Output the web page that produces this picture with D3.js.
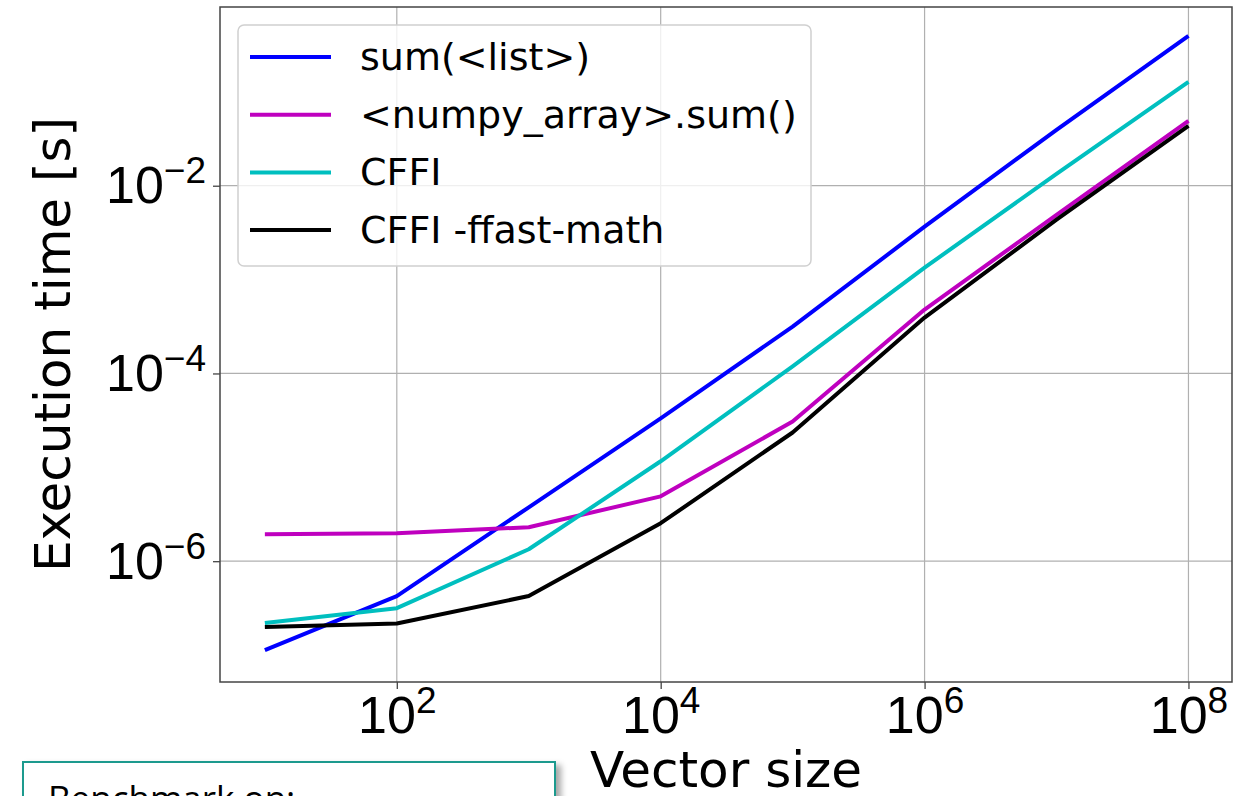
<!DOCTYPE html>
<html>
<head>
<meta charset="utf-8">
<script src="https://cdn.jsdelivr.net/npm/d3@7"></script>
<style>
	body { margin: 0; background: #fff; overflow: hidden; }
	svg { display: block; font-family: 'DejaVu Sans', sans-serif; }
	.grid line { stroke: #b0b0b0; stroke-width: 1.2; }
	.axis path { display: none; }
	.axis line { stroke: #444; stroke-width: 1.3; }
	.frame { fill: none; stroke: #444; stroke-width: 1.5; }
	.line { fill: none; stroke-width: 4; stroke-linejoin: round; }
</style>
</head>
<body>
<script>
	var sizes = [1e1, 1e2, 1e3, 1e4, 1e5, 1e6, 1e7, 1e8];
	var sumList = [1.13e-7, 4.25e-7, 3.75e-6, 3.32e-5, 3.16e-4, 3.66e-3, 3.94e-2, 3.94e-1];
	var numpySum = [1.94e-6, 1.99e-6, 2.30e-6, 4.91e-6, 3.08e-5, 4.80e-4, 4.9e-3, 4.9e-2];
	var cffi = [2.19e-7, 3.16e-7, 1.34e-6, 1.16e-5, 1.19e-4, 1.34e-3, 1.34e-2, 1.28e-1];
	var cffiFast = [1.99e-7, 2.17e-7, 4.25e-7, 2.54e-6, 2.35e-5, 3.94e-4, 4.35e-3, 4.35e-2];
	var seriesNames = ['sum(<list>)', '<numpy_array>.sum()', 'CFFI', 'CFFI -ffast-math'];
	var seriesColors = ['#0000ff', '#bf00bf', '#00bfbf', '#000000'];
	var xTicks = [1e2, 1e4, 1e6, 1e8];
	var yTicks = [1e-6, 1e-4, 1e-2];

	var series = [sumList, numpySum, cffi, cffiFast].map(function(vals, i) {
		return { name: seriesNames[i], color: seriesColors[i], values: vals };
	});

	var fullWidth = 1236, fullHeight = 796;
	var margin = { top: 7, right: 4, bottom: 114, left: 220 };
	var width = fullWidth - margin.left - margin.right;
	var height = fullHeight - margin.top - margin.bottom;

	var svg = d3.select('body')
		.append('svg')
		.attr('width', fullWidth)
		.attr('height', fullHeight);

	var defs = svg.append('defs');
	defs.append('filter')
		.attr('id', 'shadow')
		.attr('x', '-10%').attr('y', '-10%')
		.attr('width', '130%').attr('height', '150%')
		.append('feDropShadow')
		.attr('dx', 5).attr('dy', 4)
		.attr('stdDeviation', 3)
		.attr('flood-color', '#000')
		.attr('flood-opacity', 0.35);

	var x = d3.scaleLog()
		.domain([Math.pow(10, 0.66), Math.pow(10, 8.33)])
		.range([0, width]);
	var y = d3.scaleLog()
		.domain([Math.pow(10, -7.287), Math.pow(10, -0.096)])
		.range([height, 0]);

	var chartArea = svg.append('g')
		.attr('transform', 'translate(' + margin.left + ',' + margin.top + ')');

	//grid
	var grid = chartArea.append('g').attr('class', 'grid');
	grid.selectAll('line.gx')
		.data(xTicks)
		.enter().append('line')
		.attr('class', 'gx')
		.attr('x1', function(d) { return x(d); })
		.attr('x2', function(d) { return x(d); })
		.attr('y1', 0)
		.attr('y2', height);
	grid.selectAll('line.gy')
		.data(yTicks)
		.enter().append('line')
		.attr('class', 'gy')
		.attr('x1', 0)
		.attr('x2', width)
		.attr('y1', function(d) { return y(d); })
		.attr('y2', function(d) { return y(d); });

	function powLabel(sel, d) {
		var e = Math.round(Math.log10(d));
		sel.text('10');
		sel.append('tspan')
			.attr('dy', -20)
			.style('font-size', '37px')
			.text(e < 0 ? '\u2212' + (-e) : String(e));
	}

	var xAxis = d3.axisBottom(x).tickValues(xTicks).tickSize(7).tickFormat('');
	var yAxis = d3.axisLeft(y).tickValues(yTicks).tickSize(7).tickFormat('');

	var gx = chartArea.append('g')
		.attr('class', 'x axis')
		.attr('transform', 'translate(0,' + height + ')')
		.call(xAxis);
	gx.selectAll('.tick').append('text')
		.attr('y', 51)
		.attr('fill', '#000')
		.attr('text-anchor', 'middle')
		.style('font-size', '52px')
		.each(function(d) { powLabel(d3.select(this), d); });

	var gy = chartArea.append('g')
		.attr('class', 'y axis')
		.call(yAxis);
	gy.selectAll('.tick').append('text')
		.attr('x', -14)
		.attr('y', 17)
		.attr('fill', '#000')
		.attr('text-anchor', 'end')
		.style('font-size', '52px')
		.each(function(d) { powLabel(d3.select(this), d); });

	var seriesLine = d3.line()
		.x(function(d, i) { return x(sizes[i]); })
		.y(function(d) { return y(d); });

	chartArea.selectAll('path.line')
		.data(series)
		.enter().append('path')
		.attr('class', 'line')
		.attr('stroke', function(d) { return d.color; })
		.attr('d', function(d) { return seriesLine(d.values); });

	chartArea.append('rect')
		.attr('class', 'frame')
		.attr('width', width)
		.attr('height', height);

	//legend
	var legend = chartArea.append('g')
		.attr('transform', 'translate(18,18)');
	legend.append('rect')
		.attr('width', 573)
		.attr('height', 241)
		.attr('rx', 6)
		.attr('fill', '#fff')
		.attr('fill-opacity', 0.8)
		.attr('stroke', '#d0d0d0')
		.attr('stroke-width', 1.5);
	var item = legend.selectAll('g.item')
		.data(series)
		.enter().append('g')
		.attr('class', 'item')
		.attr('transform', function(d, i) { return 'translate(0,' + (32 + i * 57.7) + ')'; });
	item.append('line')
		.attr('x1', 12).attr('x2', 93)
		.attr('stroke', function(d) { return d.color; })
		.attr('stroke-width', 4);
	item.append('text')
		.attr('x', 122)
		.attr('y', 13)
		.style('font-size', '38px')
		.text(function(d) { return d.name; });

	//axis titles
	svg.append('text')
		.attr('x', margin.left + width / 2)
		.attr('y', 787)
		.attr('text-anchor', 'middle')
		.style('font-size', '50px')
		.text('Vector size');
	svg.append('text')
		.attr('transform', 'translate(70,' + (margin.top + height / 2) + ') rotate(-90)')
		.attr('text-anchor', 'middle')
		.style('font-size', '50px')
		.text('Execution time [s]');

	//benchmark note box
	var note = svg.append('g');
	note.append('rect')
		.attr('x', 23).attr('y', 762)
		.attr('width', 532).attr('height', 80)
		.attr('fill', '#fff')
		.attr('stroke', '#1f9a8e')
		.attr('stroke-width', 2)
		.attr('filter', 'url(#shadow)');
	note.append('text')
		.attr('x', 48).attr('y', 811)
		.style('font-family', "'Open Sans', sans-serif")
		.style('font-size', '35px')
		.text('Benchmark on:');
</script>
</body>
</html>
